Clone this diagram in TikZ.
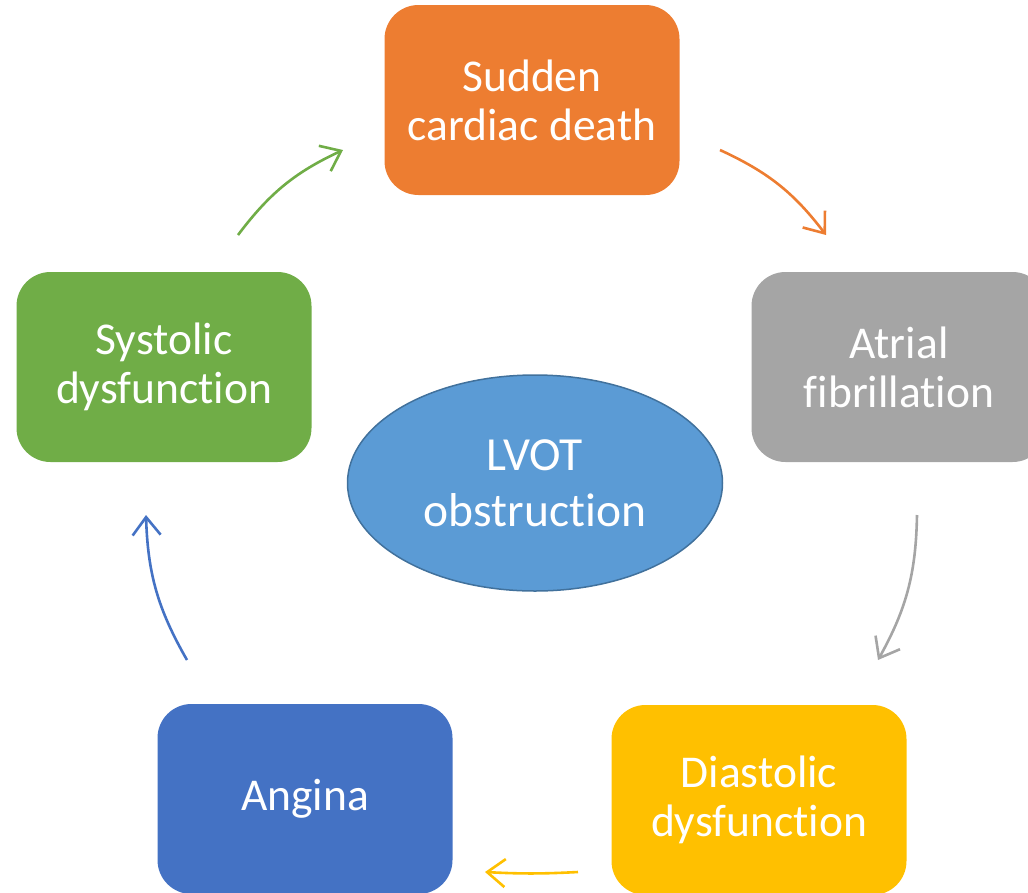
\documentclass[tikz,border=0pt]{standalone}
\usepackage{fontspec}
\setmainfont{Carlito}[RawFeature={-liga;-clig;-rlig;-calt;-ccmp;-dlig}]
\usetikzlibrary{arrows.meta,shapes}

\definecolor{sudden}{HTML}{ED7D31}
\definecolor{atrial}{HTML}{A5A5A5}
\definecolor{systolic}{HTML}{70AD47}
\definecolor{angina}{HTML}{4472C4}
\definecolor{diastolic}{HTML}{FFC000}
\definecolor{lvot}{HTML}{5B9BD5}
\definecolor{lvotline}{HTML}{41719C}

\begin{document}
\begin{tikzpicture}[x=1pt,y=1pt,inner sep=0pt,
    event/.style={rectangle,rounded corners=34pt,minimum width=295pt,minimum height=190pt,
      text=white,align=center,font=\fontsize{45.5}{49}\selectfont},
    core/.style={ellipse,draw=lvotline,line width=1.5pt,fill=lvot,minimum width=375pt,
      minimum height=216pt,text=white,align=center,font=\fontsize{47.5}{56}\selectfont},
    cycle/.style={line width=2.6pt,-{Straight Barb[length=18pt,width=28pt,line width=2.6pt]},bend left=14}]
    \useasboundingbox (0,0) rectangle (1028,-892);
    \clip (0,0) rectangle (1028,-892);
    \node[event,fill=sudden] (death) at (532,-100) {Sudden\\cardiac death};
    \node[event,fill=atrial] (afib) at (899,-367) {Atrial\\fibrillation};
    \node[event,fill=diastolic] (diast) at (759,-800) {Diastolic\\dysfunction};
    \node[event,fill=angina] (angina) at (305,-799) {Angina};
    \node[event,fill=systolic] (syst) at (164,-367) {Systolic\\dysfunction};
    \node[core] (lvot) at (535,-483) {LVOT\\obstruction};
    % arrow ends
    \coordinate (s1) at (238,-235);  \coordinate (s2) at (343,-150);
    \coordinate (d1) at (720,-150);  \coordinate (d2) at (826,-235);
    \coordinate (a1) at (917,-515);  \coordinate (a2) at (878,-660);
    \coordinate (t1) at (578,-872);  \coordinate (t2) at (485,-872);
    \coordinate (g1) at (187,-660);  \coordinate (g2) at (146,-515);
    \draw[cycle,systolic] (s1) to (s2);
    \draw[cycle,sudden] (d1) to (d2);
    \draw[cycle,atrial] (a1) to (a2);
    \draw[cycle,diastolic,bend left=3] (t1) to (t2);
    \draw[cycle,angina] (g1) to (g2);
  \end{tikzpicture}
\end{document}
